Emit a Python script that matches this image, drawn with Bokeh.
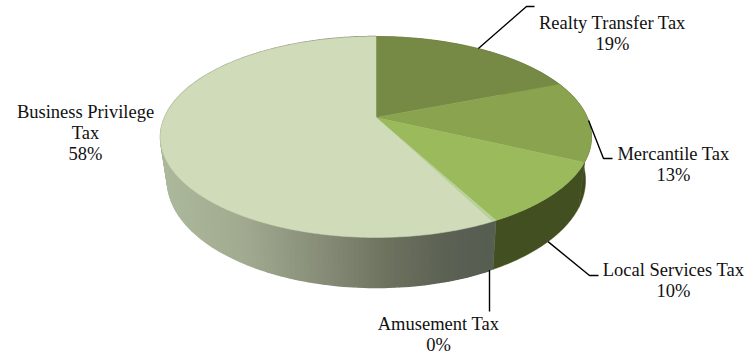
import numpy as np
from bokeh.core.properties import value
from bokeh.embed import file_html
from bokeh.plotting import figure
from bokeh.resources import INLINE

# Revenue shares, clockwise from twelve o'clock
categories = ["Realty Transfer Tax", "Mercantile Tax", "Local Services Tax", "Amusement Tax", "Business Privilege Tax"]
shares = [19.0, 13.0, 10.2, 0.3, 57.5]
top_colors = ["#778a45", "#8aa34f", "#9aba5c", "#b8d09a", "#d0dbb9"]
wall_colors = ["#4a5726", "#3f4b1d", "#424f20", "#566050", None]

# Label layout: text lines, text centre x, first line centre y, leader elbow points
label_layout = {
    "Realty Transfer Tax": (["Realty Transfer Tax"], 612, 22, [(526, 6), (534, 6)], "top"),
    "Mercantile Tax": (["Mercantile Tax"], 673, 153, [(603, 158), (612, 158)], "top"),
    "Local Services Tax": (["Local Services Tax"], 673, 269, [(589, 275), (598, 275)], "rim"),
    "Amusement Tax": (["Amusement Tax"], 438, 323, [(489, 311)], "rim"),
    "Business Privilege Tax": (["Business Privilege", "Tax"], 85, 111, [], None),
}

# Perspective projection of the pie's unit circle onto the page
CX, APEX_Y, PERSP, DEPTH_K, RADIUS = 375.5, 117.0, 0.194, -74.0, 211.4
# The lower rim is the same circle further from the eye: narrower, deeper and lower
RIM_CX, RIM_CY, RIM_SX, RIM_SY = 376.0, 180.0, 0.97, 1.065


def project(theta):
    u, v = np.sin(theta), np.cos(theta)
    d = 1 + PERSP * v
    return CX + RADIUS * u / d, (APEX_Y + DEPTH_K * v) / d


def project_rim(theta):
    x, y = project(theta)
    return RIM_CX + (x - CX) * RIM_SX, RIM_CY + (y - 136.5) * RIM_SY


def wall_shade(x):
    # Shading of the large slice's side, lighter on the left and darker toward the front right
    stops_x = [165, 240, 320, 385, 445, 492]
    stops = np.array([[172, 184, 155], [162, 171, 145], [135, 141, 120], [110, 115, 96], [92, 98, 84], [86, 94, 82]])
    rgb = [int(np.interp(x, stops_x, stops[:, i])) for i in range(3)]
    return "#%02x%02x%02x" % tuple(rgb)


p = figure(width=755, height=353, x_range=(0, 755), y_range=(353, 0), output_backend="svg",
           toolbar_location=None, min_border=0, outline_line_color=None,
           background_fill_color="white", border_fill_color="white")
p.axis.visible = False
p.grid.visible = False

edges = np.concatenate([[0], np.cumsum(shares)]) / sum(shares) * 2 * np.pi

# Side wall: flat slices as one shape, the shaded slice as narrow overlapping strips
for start, stop, color in zip(edges[:-1], edges[1:], wall_colors):
    if color:
        th = np.linspace(start, stop, 60)
        xs, ys = project(th)
        rxs, rys = project_rim(th[::-1])
        p.patch(np.r_[xs, rxs], np.r_[ys, rys], fill_color=color, line_color=color, line_width=0.5)
    else:
        th = np.linspace(start, stop, int((stop - start) / 0.02) + 1)
        wx, wy, wc = [], [], []
        for a, b in zip(th[:-1], th[1:]):
            xa, ya = project(a)
            xb, yb = project(b)
            rxa, rya = project_rim(a)
            rxb, ryb = project_rim(b)
            wx.append([xa, xb, rxb, rxa])
            wy.append([ya, yb, ryb, rya])
            wc.append(wall_shade((xa + xb) / 2))
        p.patches(wx, wy, fill_color=wc, line_color=wc, line_width=1.5)

# Top face
for start, stop, color in zip(edges[:-1], edges[1:], top_colors):
    th = np.linspace(start, stop, max(3, int((stop - start) / 0.01)))
    xs, ys = project(th)
    p.patch(np.r_[CX, xs], np.r_[APEX_Y, ys], fill_color=color, line_color=color, line_width=0.5)

# Labels and leader lines
font = value("Liberation Serif")
for name, share, start, stop in zip(categories, shares, edges[:-1], edges[1:]):
    lines, tx, ty, elbow, anchor = label_layout[name]
    mid = (start + stop) / 2
    if anchor:
        x0, y0 = project(mid) if anchor == "top" else project_rim(mid)
        lx = [x0] + [pt[0] for pt in elbow]
        ly = [y0] + [pt[1] for pt in elbow]
        if len(elbow) == 1:
            lx[0] = lx[1]
        p.line(lx, ly, line_color="black", line_width=1.4)
    for i, text in enumerate(lines + [f"{round(share)}%"]):
        p.text([tx], [ty + 21 * i], text=[text], text_font=font, text_font_size="18.5px",
               text_color="#111111", text_align="center", text_baseline="middle")

open("out.html", "w").write(file_html(p, INLINE))
